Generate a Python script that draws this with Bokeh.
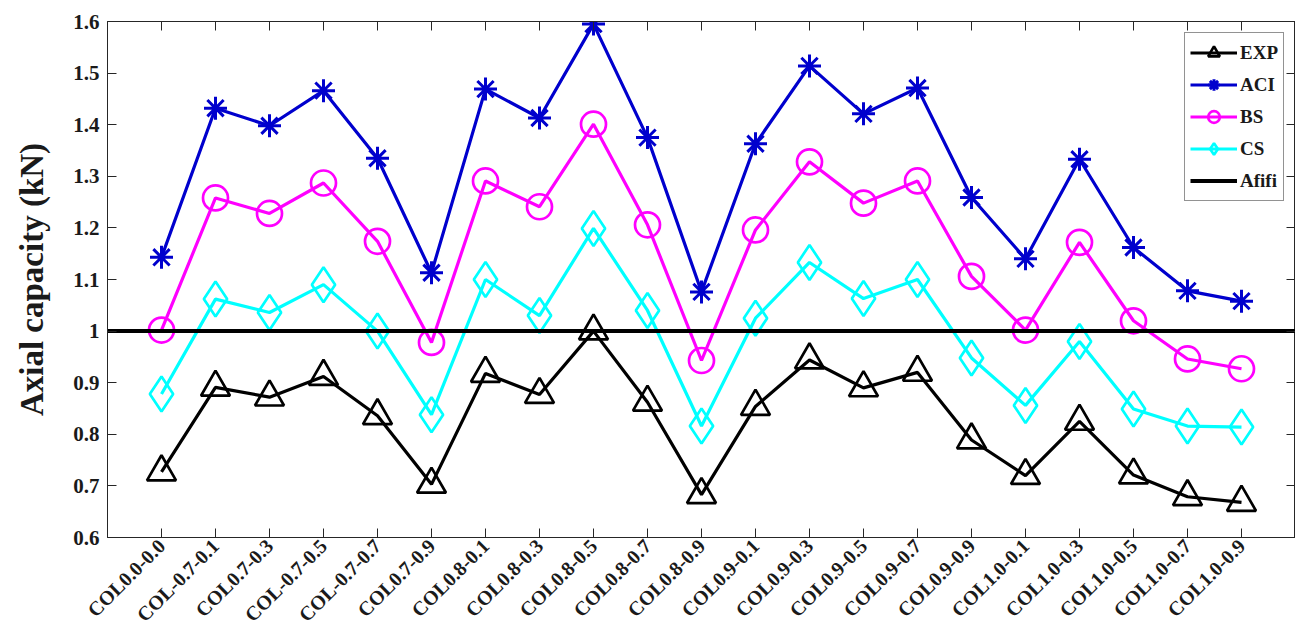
import math
from bokeh.plotting import figure
from bokeh.models import (Range1d, FixedTicker, LinearAxis, Legend, LegendItem,
                          CustomJSTickFormatter, ColumnDataSource)
from bokeh.embed import file_html
from bokeh.resources import INLINE

# ---------------- data ----------------
categories = ["COL0.0-0.0", "COL-0.7-0.1", "COL0.7-0.3", "COL-0.7-0.5", "COL-0.7-0.7",
              "COL0.7-0.9", "COL0.8-0.1", "COL0.8-0.3", "COL0.8-0.5", "COL0.8-0.7",
              "COL0.8-0.9", "COL0.9-0.1", "COL0.9-0.3", "COL0.9-0.5", "COL0.9-0.7",
              "COL0.9-0.9", "COL1.0-0.1", "COL1.0-0.3", "COL1.0-0.5", "COL1.0-0.7",
              "COL1.0-0.9"]
exp = [0.727, 0.891, 0.872, 0.912, 0.836, 0.703, 0.918, 0.877, 1.000, 0.862, 0.683,
       0.854, 0.944, 0.890, 0.920, 0.789, 0.720, 0.825, 0.721, 0.679, 0.668]
aci = [1.143, 1.432, 1.398, 1.466, 1.335, 1.113, 1.469, 1.413, 1.595, 1.375, 1.076,
       1.363, 1.514, 1.421, 1.471, 1.259, 1.140, 1.333, 1.162, 1.078, 1.058]
bs = [1.002, 1.258, 1.228, 1.287, 1.174, 0.978, 1.291, 1.241, 1.401, 1.206, 0.943,
      1.196, 1.328, 1.248, 1.291, 1.106, 1.002, 1.172, 1.020, 0.946, 0.927]
cs = [0.878, 1.062, 1.036, 1.090, 1.000, 0.838, 1.100, 1.030, 1.199, 1.040, 0.816,
      1.025, 1.133, 1.063, 1.100, 0.948, 0.856, 0.980, 0.849, 0.816, 0.814]
afifi_level = 1.0
y_ticks = [0.6, 0.7, 0.8, 0.9, 1.0, 1.1, 1.2, 1.3, 1.4, 1.5, 1.6]

x_pos = list(range(1, len(categories) + 1))
x_lo, x_hi = 0, len(categories) + 1
y_lo, y_hi = y_ticks[0], y_ticks[-1]

FONT = "Liberation Serif"
AX = "#262626"

p = figure(width=1295, height=636, output_backend="svg", toolbar_location=None,
           x_range=Range1d(x_lo, x_hi), y_range=Range1d(y_lo, y_hi),
           min_border_left=107, min_border_right=0, min_border_top=21,
           min_border_bottom=99)
p.grid.visible = False
p.background_fill_color = "white"
p.border_fill_color = "white"
p.outline_line_color = AX
p.outline_line_width = 1

# bottom axis
xa = p.xaxis[0]
xa.ticker = FixedTicker(ticks=x_pos)
xa.major_label_overrides = {i: c for i, c in zip(x_pos, categories)}
xa.major_label_orientation = math.pi / 4
xa.major_label_text_font = FONT
xa.major_label_text_font_style = "bold"
xa.major_label_text_font_size = "20px"
xa.major_label_text_color = "#1a1a1a"
xa.major_label_standoff = 5
xa.major_tick_in = 9
xa.major_tick_out = 0
xa.minor_tick_in = 0
xa.minor_tick_out = 0
xa.axis_line_color = AX
xa.major_tick_line_color = AX

# left axis
ya = p.yaxis[0]
ya.ticker = FixedTicker(ticks=y_ticks)
ya.formatter = CustomJSTickFormatter(code="return String(Math.round(tick*10)/10)")
ya.major_label_text_font = FONT
ya.major_label_text_font_style = "bold"
ya.major_label_text_font_size = "21px"
ya.major_label_text_color = "#1a1a1a"
ya.major_label_standoff = 8
ya.major_tick_in = 9
ya.major_tick_out = 0
ya.minor_tick_in = 0
ya.minor_tick_out = 0
ya.axis_line_color = AX
ya.major_tick_line_color = AX
ya.axis_label = "Axial capacity (kN)"
ya.axis_label_text_font = FONT
ya.axis_label_text_font_style = "bold"
ya.axis_label_text_font_size = "33px"
ya.axis_label_text_color = "#1a1a1a"
ya.axis_label_standoff = 20

# mirrored tick axes (top, right)
blank = CustomJSTickFormatter(code="return ''")
top = LinearAxis(ticker=FixedTicker(ticks=x_pos), formatter=blank,
                 major_tick_in=9, major_tick_out=0, minor_tick_in=0, minor_tick_out=0,
                 major_label_standoff=0, major_label_text_font_size="1px",
                 axis_line_color=AX, major_tick_line_color=AX)
right = LinearAxis(ticker=FixedTicker(ticks=y_ticks), formatter=blank,
                   major_tick_in=9, major_tick_out=0, minor_tick_in=0, minor_tick_out=0,
                   major_label_standoff=0, major_label_text_font_size="1px",
                   axis_line_color=AX, major_tick_line_color=AX)
p.add_layout(top, "above")
p.add_layout(right, "right")

src = ColumnDataSource(dict(x=x_pos, exp=exp, aci=aci, bs=bs, cs=cs))

series = [
    ("EXP", "exp", "black", "triangle", 29),
    ("ACI", "aci", "#0000CD", "asterisk", 23),
    ("BS", "bs", "#FF00FF", "circle", 25),
    ("CS", "cs", "#00FFFF", "diamond", 35),
]
items = []
for label, col, color, marker, size in series:
    ln = p.line("x", col, source=src, line_color=color, line_width=3.2)
    sc = p.scatter("x", col, source=src, marker=marker, size=size,
                   fill_color=None, line_color=color,
                   line_width=3 if marker == "asterisk" else 2.7)
    items.append(LegendItem(label=label, renderers=[ln, sc]))

af = p.line([x_lo, x_hi], [afifi_level, afifi_level], line_color="black", line_width=4)
items.append(LegendItem(label="Afifi", renderers=[af]))

legend = Legend(items=items, location="top_right", margin=11, padding=5, spacing=3,
                glyph_width=47, glyph_height=29, label_standoff=3,
                label_text_font=FONT, label_text_font_style="bold",
                label_text_font_size="19px", label_text_color="#1a1a1a",
                border_line_color=AX, border_line_width=1,
                background_fill_color="white", background_fill_alpha=1)
p.add_layout(legend)

open("out.html", "w").write(file_html(p, INLINE))
